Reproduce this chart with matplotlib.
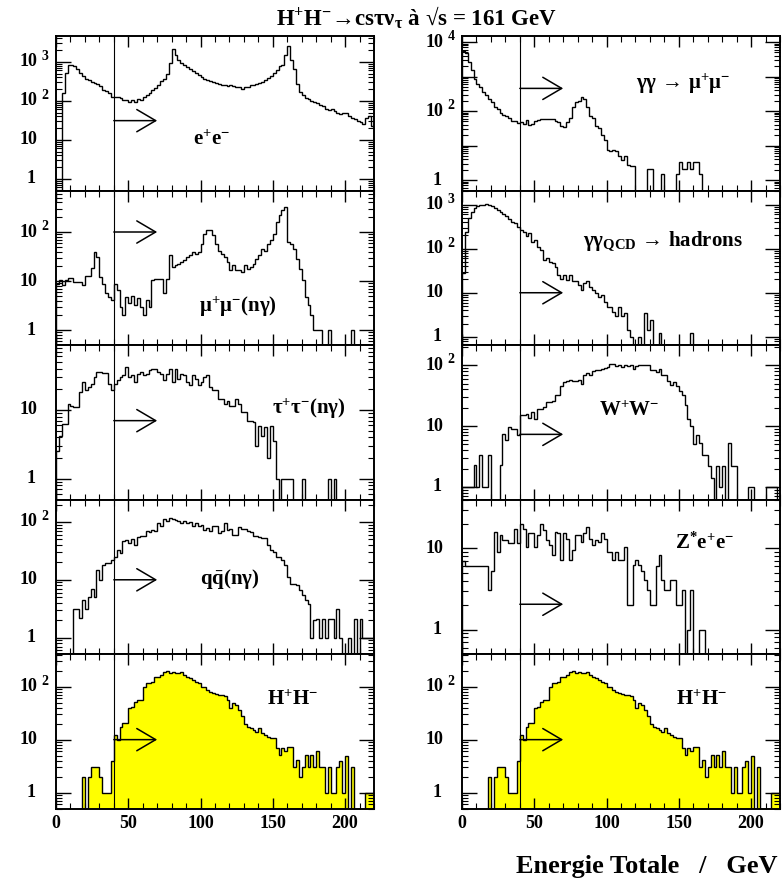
import numpy as np
import matplotlib
matplotlib.use('Agg')
import matplotlib.pyplot as plt
from matplotlib import transforms
from matplotlib.ticker import MultipleLocator, LogLocator, NullFormatter

plt.rcParams['font.family'] = ['Liberation Serif', 'DejaVu Serif']
plt.rcParams['font.weight'] = 'bold'
plt.rcParams['mathtext.fontset'] = 'custom'
plt.rcParams['mathtext.rm'] = 'Liberation Serif:bold'
plt.rcParams['mathtext.it'] = 'Liberation Serif:bold'
plt.rcParams['mathtext.bf'] = 'Liberation Serif:bold'
plt.rcParams['mathtext.sf'] = 'Liberation Serif'

# ---------------- data ----------------
e_min, e_max, bin_width = 0, 220, 2
cut_energy = 40

ee = [0, 0, 155, 525, 845, 840, 760, 640, 525, 435,
      360, 340, 310, 290, 270, 235, 195, 180, 160, 128,
      128, 123, 115, 102, 105, 96, 105, 96, 110, 106,
      128, 140, 160, 185, 210, 250, 315, 360, 480, 920,
      2170, 1500, 1100, 920, 810, 720, 640, 580, 530, 460,
      410, 360, 340, 315, 300, 280, 270, 260, 250, 240,
      250, 235, 225, 225, 205, 225, 225, 250, 260, 270,
      290, 310, 340, 380, 435, 525, 600, 760, 845, 1500,
      2600, 1100, 640, 270, 170, 140, 116, 110, 100, 91,
      88, 80, 73, 62, 58, 60, 55, 50, 45, 50,
      50, 41, 37, 34, 31, 28, 26, 37, 41, 23]

gg_mumu = [5500, 4840, 2690, 1560, 875, 630, 483, 357, 287, 227,
           181, 135, 115, 91, 79, 72.5, 62, 53, 50, 44,
           47, 42, 54, 39, 42, 53, 54, 59, 59, 59,
           59, 59, 53, 47, 38, 35, 47, 65, 128, 181,
           202, 253, 227, 128, 73, 65, 38, 33, 20.5, 15,
           7.7, 6.8, 7.7, 6.8, 4.9, 3.9, 4.9, 2.7, 2.5, 2.5,
           0, 0, 0, 0, 2.1, 2.1, 0, 0, 0, 1.55,
           0, 0, 0, 0, 1.55, 3.3, 2.1, 2.1, 3.3, 2.1,
           3.3, 3.3, 1.55, 0, 0, 0, 0, 0, 0, 0,
           0, 0, 0, 0, 0, 0, 0, 0, 0, 0,
           0, 0, 0, 0, 0, 0, 0, 0, 0, 0]

mumu = [8.9, 10.4, 8.2, 10.7, 11.8, 11.8, 9.6, 9.6, 9.6, 8.2,
        13, 13, 18.8, 39, 31, 12.2, 8.9, 5.6, 4.8, 4.1,
        8.9, 6.5, 3, 2, 4.8, 3.5, 4.9, 3.2, 4.6, 3,
        2, 4.1, 3, 10.4, 11.3, 11.3, 11.3, 5.6, 11.3, 33.5,
        19.4, 21, 22, 24.6, 26.5, 31, 33.5, 39, 36, 39,
        58, 92, 108, 111, 85, 58, 42, 36, 31, 24.6,
        16.6, 21, 16.6, 16.6, 15.3, 21, 18, 19.4, 22.7, 28.6,
        33.5, 45.7, 42, 58, 67.5, 92, 160, 218, 285, 320,
        63, 58, 45.7, 28.6, 18, 10.4, 4.8, 3.2, 2, 1,
        1, 1, 0, 0, 1, 0, 0, 0, 0, 0,
        0, 0, 1, 0, 0, 0, 0, 0, 0, 0]

gg_qcd = [28, 235, 500, 700, 840, 915, 960, 1000, 1040, 1000,
          950, 840, 770, 700, 625, 560, 470, 415, 380, 310,
          270, 245, 190, 225, 145, 160, 112, 94, 56, 60,
          51, 47, 38, 25, 21, 25, 19.5, 25, 18, 18,
          15, 11.6, 17, 18, 13.8, 11.6, 9.7, 8.2, 8.9, 6.3,
          4.8, 4.8, 3.7, 2.9, 4.8, 2.9, 3.4, 1.4, 1, 0,
          0, 1, 0, 3.4, 1.4, 2.4, 0, 0, 1.2, 0,
          0, 0, 0, 0, 0, 0, 0, 0, 0, 1.2,
          0, 0, 0, 0, 0, 0, 0, 0, 0, 0,
          0, 0, 0, 0, 0, 0, 0, 0, 0, 0,
          0, 0, 0, 0, 0, 0, 0, 0, 0, 0]

tautau = [2.5, 4.2, 6.2, 6.2, 12.2, 11.6, 11, 11, 18.2, 25.5,
          19.2, 21.5, 24, 30, 35.8, 35.8, 34.5, 34.5, 24, 19.7,
          24, 27, 30, 32, 42.4, 30, 32, 25.5, 33.7, 35.8,
          32, 33.7, 38, 40, 38.8, 35.8, 33.7, 27, 33.7, 40,
          25.5, 40, 28.5, 33.7, 32, 25.5, 22.8, 32, 28.5, 22.8,
          25.5, 30, 32, 21.5, 19.2, 19.2, 14.5, 14.5, 12.2, 13.7,
          11.6, 11.6, 14.5, 12.2, 9.2, 9.2, 7, 7, 6.6, 3,
          5.9, 4.2, 5.6, 2, 5.9, 3.5, 1, 0, 1, 1,
          1, 1, 0, 0, 0, 1, 0, 0, 0, 0,
          0, 0, 0, 0, 1, 0, 1, 0, 0, 0,
          0, 0, 0, 0, 0, 0, 0, 0, 0, 0]

ww = [1, 1, 1, 1, 2.3, 1, 3.3, 1, 1, 3.3,
      0, 0, 0, 2.3, 7.4, 5.9, 9.5, 8.8, 8.8, 7.1,
      15, 15, 16, 13.5, 17, 13, 19, 19, 20.5, 25,
      25, 25.5, 33, 33, 45, 52, 56, 57, 54, 56,
      57, 50, 70, 74, 70, 80, 83, 83, 86, 89,
      95, 105, 103, 96, 100, 93, 100, 96, 100, 88,
      98, 102, 100, 102, 100, 85, 83, 78, 86, 70,
      70, 55, 48, 52, 45, 38, 33, 22, 13, 10,
      5, 7, 5.3, 3.3, 3.3, 2.2, 1.4, 0, 2.2, 1,
      2.2, 0, 5.2, 2.2, 2.2, 0, 0, 0, 0, 1,
      1, 0, 0, 0, 0, 1, 1, 1, 1, 0]

qqbar = [0, 0, 0, 0, 0, 0, 3.1, 3.1, 2.2, 4.4,
         3.1, 5, 7, 5, 14.7, 9.8, 18, 19.2, 19.2, 22,
         25, 33, 28.6, 46, 49, 43, 50.7, 40, 56, 57.6,
         57.6, 68.6, 66.3, 73, 71, 95.6, 84, 112, 102, 117,
         112, 107, 102, 96, 102, 96, 98, 86, 96, 84,
         90, 73, 79, 68.6, 84, 84, 64, 68.6, 96, 73,
         75, 60, 60, 82, 75, 75, 68.6, 66.3, 57.6, 57.6,
         54.6, 52.5, 52.5, 40, 33, 30.7, 25, 25, 22, 18,
         11.2, 8.6, 8.6, 8, 6.6, 5.4, 4.4, 3.8, 1, 2,
         2.1, 1, 2.1, 1, 2.1, 2.1, 1, 3.1, 1, 0,
         0, 1, 0, 2.1, 0, 2.1, 1, 1, 1, 1]

zee = [6.9, 6.1, 6.1, 6.1, 6.1, 6.1, 6.1, 6.1, 6.1, 3.1,
       5.2, 16, 9.1, 14.6, 12.6, 12.6, 11.5, 11.5, 17.5, 11.5,
       20, 17.5, 10.5, 15.3, 15.6, 10.5, 14.6, 20, 16.7, 12.6,
       11, 8.3, 16, 15.3, 7.2, 15.3, 13.2, 7.2, 9.5, 14.6,
       14.6, 12, 15.3, 18.4, 13.2, 11, 12.6, 12, 15.6, 13.2,
       9.1, 9.1, 7.2, 9.1, 7.2, 7.2, 10.3, 2, 2, 6.25,
       7.2, 6.25, 5.2, 4.1, 3.1, 2, 2, 6, 8.3, 4.1,
       3.1, 3.1, 4.1, 4.1, 2, 2, 3.1, 0, 1, 3.1,
       0, 0, 1, 1, 0, 0, 0, 0, 0, 0,
       0, 0, 0, 0, 0, 0, 0, 0, 0, 0,
       0, 0, 0, 0, 0, 0, 0, 0, 0, 0]

hh = [0, 0, 0, 0, 0, 0, 0, 0, 0, 2,
      0, 2, 3.1, 3.1, 3.1, 2, 1, 1, 1, 4,
      12.2, 10, 17, 21, 20.5, 39, 42, 52, 56, 56,
      100, 116, 116, 123, 154, 154, 166, 192, 200, 184,
      192, 178, 178, 192, 166, 154, 143, 133, 123, 116,
      100, 100, 87, 80, 77, 73, 70, 70, 67, 56,
      39, 50, 45, 36, 28, 20, 17.6, 16.4, 15.2, 14,
      16.4, 13.2, 12.2, 11.4, 10.6, 10.6, 6.9, 5.1, 6.9, 6,
      7.2, 7.2, 3.1, 4.1, 2, 3.1, 5.1, 3.1, 5.1, 3.1,
      6, 3.1, 3.1, 1, 3.1, 1, 1, 3.1, 4, 1,
      4.9, 0, 3.1, 0, 0, 0, 0, 1, 1, 1]

panel_labels = [r"e$^{+}$e$^{-}$",
                r"$\mathsf{γγ\ →\ μ^{+}μ^{-}}$",
                r"μ$^{+}$μ$^{-}$(nγ)",
                r"$\mathsf{γγ}_{\mathrm{QCD}}\mathsf{\ →\ }$hadrons",
                r"τ$^{+}$τ$^{-}$(nγ)",
                r"W$^{+}$W$^{-}$",
                r"q$\bar{\mathrm{q}}$(nγ)",
                r"Z$^{*}$e$^{+}$e$^{-}$",
                r"H$^{+}$H$^{-}$",
                r"H$^{+}$H$^{-}$"]
series = [ee, gg_mumu, mumu, gg_qcd, tautau, ww, qqbar, zee, hh, hh]

# ---------------- layout / style ----------------
# (row, col, ylim, label xy, arrow y, filled, label decade step)
specs = [
    (0, 0, (0.5, 4600), (108, 10), 31, False, 1),
    (0, 1, (0.5, 15000), (153, 600), 455, False, 2),
    (1, 0, (0.5, 700), (126, 3.0), 100, False, 1),
    (1, 1, (0.65, 2100), (139, 145), 10, False, 1),
    (2, 0, (0.5, 88), (175, 10.3), 7, False, 1),
    (2, 1, (0.62, 215), (116, 18), 7.3, False, 1),
    (3, 0, (0.52, 245), (120, 10.5), 10, False, 1),
    (3, 1, (0.5, 40), (168, 11.5), 2.05, False, 1),
    (4, 0, (0.5, 415), (164, 56), 10, True, 1),
    (4, 1, (0.5, 415), (166, 56), 10, True, 1),
]

W, H = 782, 885
fig = plt.figure(figsize=(W / 100, H / 100), dpi=100)
top_px, row_h = 36, 154.5
col_left = [56, 462]
ax_w = 318

edges = np.arange(e_min, e_max + bin_width, bin_width)

for k, (r, c, ylim, lxy, ay, filled, lstep) in enumerate(specs):
    ax = fig.add_axes([col_left[c] / W, 1 - (top_px + (r + 1) * row_h) / H,
                       ax_w / W, row_h / H])
    ax.set_yscale('log')
    ax.set_xlim(e_min, e_max)
    ax.set_ylim(*ylim)
    vals = np.asarray(series[k], float)
    pv = np.where(vals > 0, vals, 1e-4)
    if filled:
        ax.stairs(pv, edges, baseline=1e-4, fill=True, color='#ffff00', lw=0)
    ax.stairs(pv, edges, baseline=1e-4, color='black', lw=1.0)
    ax.axvline(cut_energy, color='black', lw=0.8)
    ax.annotate('', xy=(70, ay), xytext=(cut_energy, ay),
                arrowprops=dict(arrowstyle='->,head_length=0.68,head_width=0.4',
                                mutation_scale=20, lw=1.1, color='black',
                                shrinkA=0, shrinkB=0))
    fw = 'normal' if k == 1 else 'bold'
    ax.text(lxy[0], lxy[1], panel_labels[k], ha='center', va='center',
            fontsize=15, fontweight=fw)

    for s in ax.spines.values():
        s.set_linewidth(1.4)
    ax.xaxis.set_major_locator(MultipleLocator(50))
    ax.xaxis.set_minor_locator(MultipleLocator(10))
    ax.yaxis.set_major_locator(LogLocator(base=10, numticks=20))
    ax.yaxis.set_minor_locator(LogLocator(base=10, subs=np.arange(2, 10), numticks=20))
    ax.yaxis.set_major_formatter(NullFormatter())
    ax.yaxis.set_minor_formatter(NullFormatter())
    ax.tick_params(which='both', direction='in', top=True, right=True)
    ax.tick_params(which='major', length=8, width=1.0)
    ax.tick_params(which='minor', length=4.5, width=0.8)
    ax.tick_params(axis='y', which='major', length=11)
    if r == 4:
        ax.tick_params(axis='x', labelbottom=True, labelsize=13, pad=5)
    else:
        ax.tick_params(axis='x', labelbottom=False)

    # y tick labels in PAW style
    tb = transforms.blended_transform_factory(ax.transAxes, ax.transData)
    e0 = int(np.ceil(np.log10(ylim[0])))
    e1 = int(np.floor(np.log10(ylim[1])))
    for e in range(e0, e1 + 1):
        if e % lstep:
            continue
        if e == 0:
            ax.text(0, 1, "1", transform=tb + transforms.ScaledTranslation(-0.20, 0, fig.dpi_scale_trans),
                    ha='right', va='center', fontsize=13)
        elif e == 1:
            ax.text(0, 10, "10", transform=tb + transforms.ScaledTranslation(-0.19, 0, fig.dpi_scale_trans),
                    ha='right', va='center', fontsize=13)
        else:
            ax.text(0, 10.0 ** e, "10", transform=tb + transforms.ScaledTranslation(-0.19, 0, fig.dpi_scale_trans),
                    ha='right', va='center', fontsize=13)
            ax.text(0, 10.0 ** e, str(e), transform=tb + transforms.ScaledTranslation(-0.145, 0.055, fig.dpi_scale_trans),
                    ha='left', va='center', fontsize=10)

fig.text(417 / W, 1 - 18 / H, r"H$^{+}$H$^{-}$→csτν$_{\mathrm{τ}}$ à √s = 161 GeV",
         ha='center', va='center', fontsize=16.5)
fig.text(777 / W, 1 - 867 / H, "Energie Totale   /   GeV", ha='right', va='center', fontsize=19)

fig.savefig('out.png', dpi=100)
